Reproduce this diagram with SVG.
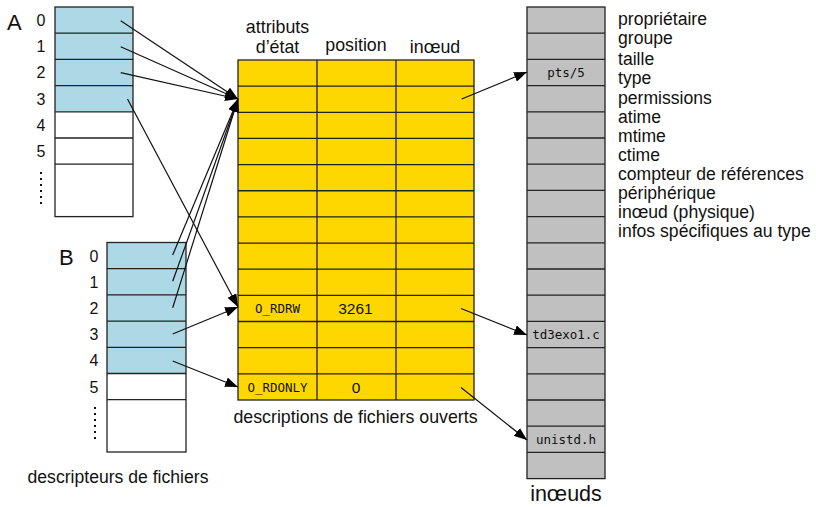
<svg xmlns="http://www.w3.org/2000/svg" width="816" height="507" viewBox="0 0 816 507">
<defs>
<style>
.t{font-family:"Liberation Sans",Arial,sans-serif;fill:#111}
.m{font-family:"DejaVu Sans Mono","Liberation Mono",monospace;font-size:12.5px;fill:#111}
.ln{stroke:#222;stroke-width:1.3;fill:none}
.blue{fill:#add8e6}
.yel{fill:#ffd700}
.gray{fill:#c0c0c0}
.wh{fill:#fff}
.c{stroke:#111;stroke-width:1.2;fill:none;marker-end:url(#ah)}
.dot{stroke:#111;stroke-width:2;stroke-dasharray:2 4;fill:none}
</style>
<marker id="ah" markerUnits="userSpaceOnUse" markerWidth="14" markerHeight="10" refX="13" refY="5" orient="auto">
<path d="M0,0 L13,5 L0,10 z" fill="#000"/>
</marker>
</defs>
<rect width="816" height="507" fill="#fff"/>

<g id="tableA">
<rect class="blue" x="55" y="7" width="78" height="104.8"/>
<rect class="wh" x="55" y="111.8" width="78" height="104.8"/>
<rect class="ln" x="55" y="7" width="78" height="209.6"/>
<path class="ln" d="M55,33.2H133M55,59.4H133M55,85.6H133M55,111.8H133M55,138H133M55,164.2H133"/>
<text class="t" x="7" y="29.5" font-size="22">A</text>
<g class="t" font-size="16" text-anchor="middle">
<text x="41" y="26">0</text>
<text x="41" y="52.2">1</text>
<text x="41" y="78.4">2</text>
<text x="41" y="104.6">3</text>
<text x="41" y="130.8">4</text>
<text x="41" y="157">5</text>
</g>
<path class="dot" d="M41,172V206"/>
</g>

<g id="tableB">
<rect class="blue" x="107" y="242.5" width="79" height="131"/>
<rect class="wh" x="107" y="373.5" width="79" height="78.5"/>
<rect class="ln" x="107" y="242.5" width="79" height="209.5"/>
<path class="ln" d="M107,268.7H186M107,294.9H186M107,321.1H186M107,347.3H186M107,373.5H186M107,399.7H186"/>
<text class="t" x="59" y="264.5" font-size="22">B</text>
<g class="t" font-size="16" text-anchor="middle">
<text x="94" y="261.5">0</text>
<text x="94" y="287.7">1</text>
<text x="94" y="313.9">2</text>
<text x="94" y="340.1">3</text>
<text x="94" y="366.3">4</text>
<text x="94" y="392.5">5</text>
</g>
<path class="dot" d="M95,407V442"/>
<text class="t" x="118" y="483" font-size="17.6" text-anchor="middle">descripteurs de fichiers</text>
</g>

<g id="openfiles">
<rect class="yel" x="238" y="60" width="236" height="340"/>
<rect class="ln" x="238" y="60" width="236" height="340"/>
<path class="ln" d="M317,60V400M396,60V400"/>
<path class="ln" d="M238,86.15H474M238,112.3H474M238,138.45H474M238,164.6H474M238,190.75H474M238,216.9H474M238,243.05H474M238,269.2H474M238,295.35H474M238,321.5H474M238,347.65H474M238,373.8H474"/>
<g class="t" font-size="17.8" text-anchor="middle">
<text x="277.5" y="33">attributs</text>
<text x="277.5" y="52.5">d’état</text>
<text x="356" y="50.5">position</text>
<text x="435" y="52.5">inœud</text>
<text x="355.5" y="423">descriptions de fichiers ouverts</text>
</g>
<g class="t" font-size="15.5" text-anchor="middle">
<text x="355.5" y="313.5">3261</text>
<text x="356" y="392.5">0</text>
</g>
<text class="m" x="277.5" y="313" text-anchor="middle" font-size="13.6">O_RDRW</text>
<text class="m" x="277.5" y="392" text-anchor="middle" font-size="13.6">O_RDONLY</text>
</g>

<g id="inodes">
<rect class="gray" x="527" y="7" width="78" height="471.6"/>
<rect class="ln" x="527" y="7" width="78" height="471.6" stroke="#444"/>
<path class="ln" d="M527,33.2H605M527,59.4H605M527,85.6H605M527,111.8H605M527,138H605M527,164.2H605M527,190.4H605M527,216.6H605M527,242.8H605M527,269H605M527,295.2H605M527,321.4H605M527,347.6H605M527,373.8H605M527,400H605M527,426.2H605M527,452.4H605"/>
<text class="m" x="566" y="76.5" text-anchor="middle">pts/5</text>
<text class="m" x="566" y="339" text-anchor="middle">td3exo1.c</text>
<text class="m" x="566" y="444" text-anchor="middle">unistd.h</text>
<text class="t" x="566" y="501" font-size="21.5" text-anchor="middle">inœuds</text>
<g class="t" font-size="17.6">
<text x="618" y="24.5">propriétaire</text>
<text x="618" y="43.5">groupe</text>
<text x="618" y="64.5">taille</text>
<text x="618" y="84">type</text>
<text x="618" y="103.5">permissions</text>
<text x="618" y="123">atime</text>
<text x="618" y="142">mtime</text>
<text x="618" y="161">ctime</text>
<text x="618" y="180">compteur de références</text>
<text x="618" y="199">périphérique</text>
<text x="618" y="218">inœud (physique)</text>
<text x="618" y="237">infos spécifiques au type</text>
</g>
</g>

<g id="connectors">
<path class="c" d="M120.7,20.7L238,99"/>
<path class="c" d="M120.7,46.7L238,99"/>
<path class="c" d="M120.7,72.7L238,99"/>
<path class="c" d="M127.5,99L238,307"/>
<path class="c" d="M172.7,255L238,99"/>
<path class="c" d="M172.7,281.3L238,99"/>
<path class="c" d="M172.7,307.7L238,99"/>
<path class="c" d="M172.7,334L238,307"/>
<path class="c" d="M172.7,361L238,387"/>
<path class="c" d="M461.7,99L527,72"/>
<path class="c" d="M461,308.5L527,335"/>
<path class="c" d="M461,387.5L527,440"/>
</g>
</svg>
